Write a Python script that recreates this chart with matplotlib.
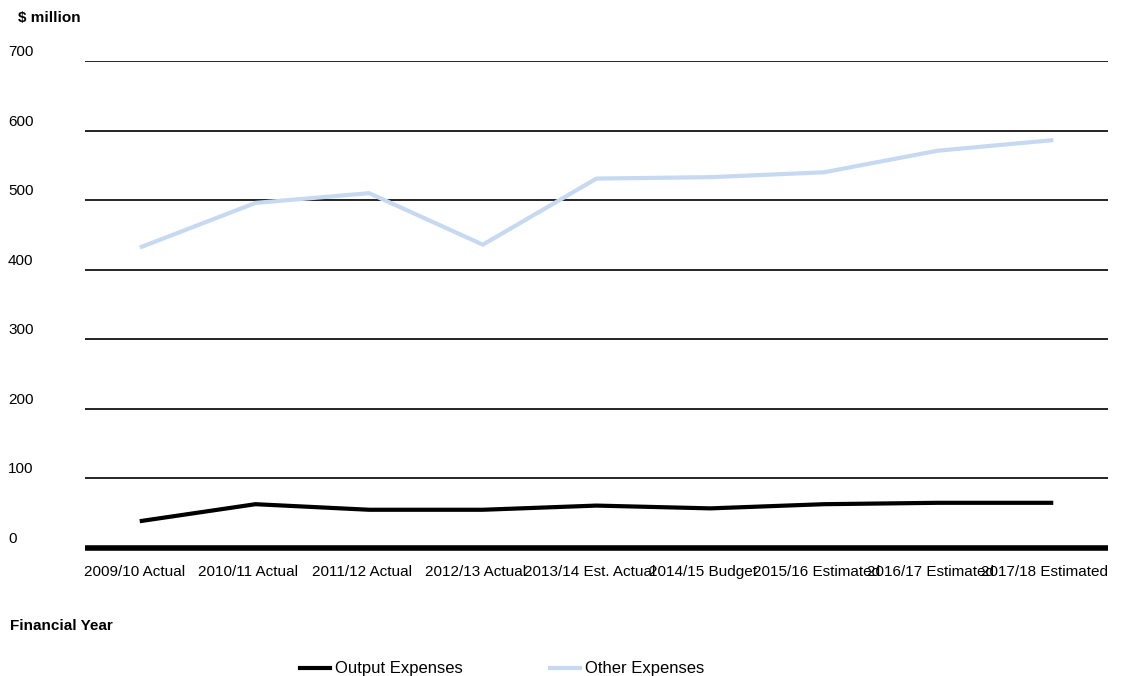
import matplotlib
matplotlib.use('Agg')
import matplotlib.pyplot as plt
from matplotlib import transforms

plt.rcParams['font.family'] = ['Liberation Sans', 'DejaVu Sans']

# Dados
anos = ['2009/10 Actual', '2010/11 Actual', '2011/12 Actual', '2012/13 Actual',
        '2013/14 Est. Actual', '2014/15 Budget', '2015/16 Estimated',
        '2016/17 Estimated', '2017/18 Estimated']
output_expenses = [39, 63, 55, 55, 61, 57, 63, 65, 65]
other_expenses = [433, 496, 510, 436, 531, 533, 540, 571, 586]
y_ticks = [0, 100, 200, 300, 400, 500, 600, 700]

fig = plt.figure(figsize=(11.24, 6.76), dpi=100)
ax = fig.add_axes([0.0756, 0.1893, 0.9102, 0.7205])

x = list(range(len(anos)))
l1, = ax.plot(x, output_expenses, color='black', lw=3, solid_joinstyle='miter',
              label='Output Expenses', zorder=3)
l2, = ax.plot(x, other_expenses, color='#c6d9f1', lw=3, solid_joinstyle='miter',
              label='Other Expenses', zorder=3)

ax.set_xlim(-0.5, len(anos) - 0.5)
ax.set_ylim(0, 700)
for v in y_ticks[1:]:
    ax.axhline(v, color='black', lw=1.2, zorder=1)
ax.axhline(0, color='black', lw=4, zorder=2, clip_on=False, solid_capstyle='butt')

for s in ax.spines.values():
    s.set_visible(False)
ax.set_yticks([])
ax.set_xticks(x)
ax.set_xticklabels(anos, fontsize=11)
ax.tick_params(axis='x', length=0, pad=12)
# rótulos um pouco deslocados para a esquerda, como no original
desloc = transforms.ScaledTranslation(-7 / 100, 0, fig.dpi_scale_trans)
for lbl in ax.get_xticklabels():
    lbl.set_transform(lbl.get_transform() + desloc)

# rótulos do eixo y à esquerda, um pouco acima das linhas
trans = transforms.blended_transform_factory(fig.transFigure, ax.transData)
trans = transforms.offset_copy(trans, fig=fig, x=0, y=9, units='dots')
for v in y_ticks:
    fig.text(8 / 1124, v, str(v), transform=trans, ha='left', va='center', fontsize=11)

fig.text(18 / 1124, 1 - 18 / 676, '$ million', ha='left', va='center',
         fontsize=11, fontweight='bold')
fig.text(10 / 1124, 1 - 626 / 676, 'Financial Year', ha='left', va='center',
         fontsize=11, fontweight='bold')

fig.legend(handles=[l1, l2], loc='center', bbox_to_anchor=(502 / 1124, 1 - 669 / 676),
           ncol=2, frameon=False, fontsize=12, handlelength=1.8, handletextpad=0.3,
           columnspacing=5.2, borderpad=0, borderaxespad=0)

fig.savefig('out.png', dpi=100)
